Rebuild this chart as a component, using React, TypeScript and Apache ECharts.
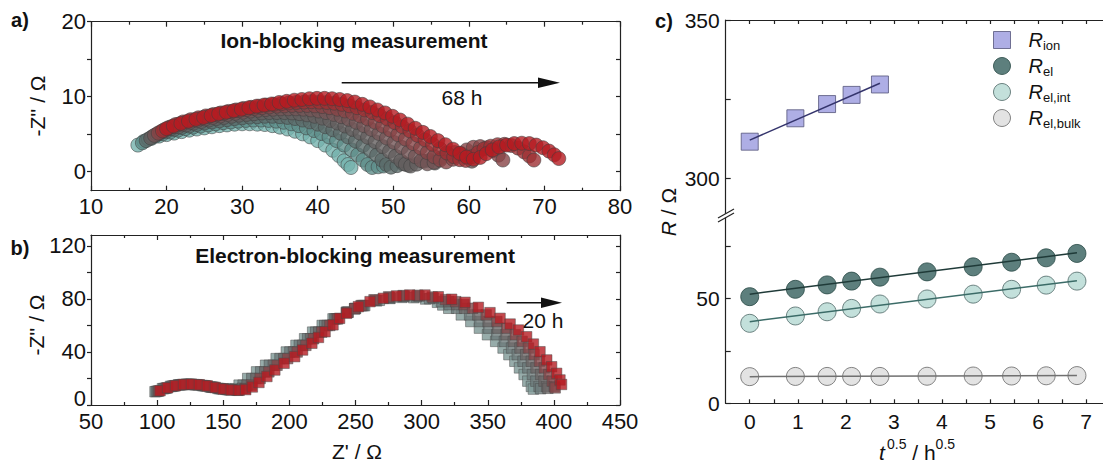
import React, { useEffect, useRef } from "react";
import * as echarts from "echarts";

const FONT = 'Arial, "Liberation Sans", Helvetica, sans-serif';

// ---------------- Panel a: ion-blocking Nyquist spectra (Z', -Z''), 0 h -> 68 h ----------------
const ion0 = [[16.2,3.5],[17.0,4.0],[18.0,4.4],[19.0,4.7],[20.0,4.9],[21.0,5.1],[22.0,5.3],[23.0,5.5],[24.0,5.65],[25.0,5.8],[26.0,5.95],[27.0,6.1],[28.0,6.2],[29.0,6.3],[30.0,6.35],[31.0,6.35],[32.0,6.3],[33.0,6.25],[34.0,6.1],[35.0,5.9],[36.0,5.65],[37.0,5.35],[38.0,5.0],[39.0,4.6],[40.0,4.1],[41.0,3.5],[42.0,2.8],[42.8,2.1],[43.5,1.4],[44.0,0.9],[44.4,0.5]];
const ion1 = [[16.8,3.8],[17.6,4.3],[18.5,4.7],[19.5,5.0],[20.5,5.25],[21.5,5.5],[22.5,5.7],[23.5,5.9],[24.5,6.05],[25.5,6.2],[26.5,6.35],[27.5,6.5],[28.5,6.6],[29.5,6.7],[30.5,6.8],[31.5,6.85],[32.5,6.85],[33.5,6.8],[34.5,6.7],[35.5,6.55],[36.5,6.35],[37.5,6.1],[38.5,5.8],[39.5,5.45],[40.5,5.05],[41.5,4.6],[42.5,4.1],[43.5,3.5],[44.5,2.85],[45.3,2.2],[46.0,1.5],[46.6,0.9],[47.2,0.5],[48.0,0.6],[48.7,0.7]];
const ion2 = [[17.3,4.1],[18.1,4.6],[19.0,5.0],[20.0,5.35],[21.0,5.6],[22.0,5.85],[23.0,6.05],[24.0,6.25],[25.0,6.45],[26.0,6.6],[27.0,6.75],[28.0,6.9],[29.0,7.05],[30.0,7.15],[31.0,7.25],[32.0,7.3],[33.0,7.35],[34.0,7.35],[35.0,7.3],[36.0,7.2],[37.0,7.05],[38.0,6.85],[39.0,6.6],[40.0,6.3],[41.0,5.95],[42.0,5.55],[43.0,5.1],[44.0,4.6],[45.0,4.05],[46.0,3.45],[47.0,2.8],[47.8,2.15],[48.5,1.5],[49.1,0.9],[49.7,0.55],[50.5,0.75],[51.3,1.0],[52.0,0.8]];
const ion3 = [[17.9,4.45],[18.7,4.95],[19.6,5.35],[20.6,5.7],[21.6,5.95],[22.6,6.2],[23.6,6.45],[24.6,6.65],[25.6,6.85],[26.6,7.05],[27.6,7.2],[28.6,7.35],[29.6,7.5],[30.6,7.6],[31.6,7.7],[32.6,7.8],[33.6,7.85],[34.6,7.85],[35.6,7.85],[36.6,7.8],[37.6,7.7],[38.6,7.55],[39.6,7.35],[40.6,7.1],[41.6,6.8],[42.6,6.45],[43.6,6.05],[44.6,5.6],[45.6,5.1],[46.6,4.55],[47.6,3.95],[48.6,3.3],[49.5,2.65],[50.3,2.0],[51.0,1.4],[51.6,0.95],[52.3,0.7],[53.1,0.95],[54.0,1.35],[54.8,1.45],[55.5,1.1]];
const ion4 = [[18.4,4.8],[19.2,5.25],[20.1,5.65],[21.1,6.0],[22.1,6.3],[23.1,6.55],[24.1,6.8],[25.1,7.0],[26.1,7.2],[27.1,7.4],[28.1,7.6],[29.1,7.75],[30.1,7.9],[31.1,8.05],[32.1,8.15],[33.1,8.25],[34.1,8.3],[35.1,8.35],[36.1,8.35],[37.1,8.35],[38.1,8.3],[39.1,8.2],[40.1,8.05],[41.1,7.85],[42.1,7.6],[43.1,7.3],[44.1,6.95],[45.1,6.55],[46.1,6.1],[47.1,5.6],[48.1,5.05],[49.1,4.45],[50.1,3.85],[51.1,3.2],[52.0,2.55],[52.9,1.95],[53.7,1.4],[54.5,1.0],[55.4,1.2],[56.3,1.8],[57.2,2.3],[58.1,2.5],[59.0,2.35],[59.8,1.9],[60.4,1.35]];
const ion5 = [[18.9,5.1],[19.7,5.55],[20.6,5.95],[21.6,6.3],[22.6,6.6],[23.6,6.85],[24.6,7.1],[25.6,7.35],[26.6,7.55],[27.6,7.75],[28.6,7.95],[29.6,8.1],[30.6,8.25],[31.6,8.4],[32.6,8.5],[33.6,8.6],[34.6,8.7],[35.6,8.75],[36.6,8.8],[37.6,8.8],[38.6,8.8],[39.6,8.75],[40.6,8.65],[41.6,8.5],[42.6,8.3],[43.6,8.05],[44.6,7.75],[45.6,7.4],[46.6,7.0],[47.6,6.55],[48.6,6.05],[49.6,5.5],[50.6,4.9],[51.6,4.3],[52.6,3.7],[53.6,3.1],[54.5,2.5],[55.4,1.95],[56.2,1.5],[57.0,1.25],[57.9,1.6],[58.8,2.3],[59.7,2.85],[60.6,3.2],[61.5,3.3],[62.4,3.15],[63.2,2.75],[63.9,2.15],[64.5,1.5]];
const ion6 = [[19.45,5.4],[20.3,5.85],[21.2,6.25],[22.2,6.6],[23.2,6.9],[24.2,7.15],[25.2,7.4],[26.2,7.6],[27.2,7.8],[28.2,8.0],[29.2,8.2],[30.2,8.4],[31.2,8.55],[32.2,8.7],[33.2,8.85],[34.2,8.95],[35.2,9.05],[36.2,9.15],[37.2,9.2],[38.2,9.25],[39.2,9.3],[40.2,9.25],[41.2,9.2],[42.2,9.1],[43.2,8.95],[44.2,8.75],[45.2,8.5],[46.2,8.2],[47.2,7.85],[48.2,7.45],[49.2,7.0],[50.2,6.5],[51.2,5.95],[52.2,5.4],[53.2,4.8],[54.2,4.2],[55.2,3.6],[56.2,3.0],[57.1,2.45],[58.0,1.95],[58.8,1.55],[59.6,1.45],[60.4,1.95],[61.2,2.5],[62.0,3.0],[62.9,3.35],[63.8,3.55],[64.7,3.6],[65.6,3.45],[66.5,3.1],[67.3,2.6],[68.0,2.05],[68.6,1.5]];
const ion7 = [[20.0,5.7],[20.9,6.05],[21.9,6.4],[22.9,6.7],[23.9,6.95],[24.9,7.2],[25.9,7.45],[26.9,7.7],[27.9,7.9],[28.9,8.1],[29.9,8.3],[30.9,8.5],[31.9,8.7],[32.9,8.85],[33.9,9.0],[34.9,9.2],[35.9,9.35],[36.9,9.5],[37.9,9.6],[38.9,9.7],[39.9,9.75],[40.9,9.75],[41.9,9.7],[42.9,9.6],[43.9,9.45],[44.9,9.25],[45.9,8.95],[46.9,8.6],[47.9,8.2],[48.9,7.8],[49.9,7.35],[50.9,6.85],[51.9,6.3],[52.9,5.75],[53.9,5.2],[54.9,4.65],[55.9,4.1],[56.9,3.55],[57.9,2.95],[58.8,2.4],[59.7,1.9],[60.6,1.6],[61.5,1.85],[62.3,2.35],[63.1,2.85],[64.0,3.25],[65.0,3.5],[66.0,3.7],[67.0,3.75],[68.0,3.7],[68.9,3.5],[69.8,3.15],[70.6,2.7],[71.3,2.2],[71.9,1.7]];
const ionSpectra = [ion0, ion1, ion2, ion3, ion4, ion5, ion6, ion7];
const ionColors = ["#74b2ad", "#5f8e8b", "#5b6b6a", "#645f5f", "#735556", "#874446", "#9e2f33", "#b51c22"];

// ---------------- Panel b: electron-blocking Nyquist spectra, 0 h -> 20 h ----------------
const el0 = [[98.4,10],[104,12.3],[110,14],[116,15.2],[122,15.6],[128,15.4],[134,14.7],[140,13.6],[146,12.5],[152,11.8],[157,12.3],[162,15],[168.5,20],[175.2,25],[182,30],[190,35],[197.7,40],[205,45],[211.5,50],[217.6,55],[224.8,60],[233,65],[243,70],[250,72.8],[257,75],[268,79],[276,80.4],[285,81.2],[294,81],[303,80],[312,77.5],[316,75.5],[320.5,73],[330,68],[337.2,63],[343.7,58],[349.8,53],[356,48],[361.6,43],[366,38],[370.5,33],[374,28],[377.5,23],[380.3,18],[383,14],[384.5,12]];
const el1 = [[99.3,10.2],[105,12.4],[111,14.1],[117,15.2],[123,15.6],[129,15.3],[135,14.6],[141,13.5],[147,12.4],[153,11.7],[159,11.9],[165,15],[171.6,20],[178.3,25],[184.9,30],[192.9,35],[200.4,40],[207.5,45],[213.8,50],[219.9,55],[226.7,60],[234.2,65],[243.5,70],[249.5,72.7],[256,75],[266,78.6],[276,80.7],[286,81.7],[296,81.6],[306,80.2],[315,78],[321,75.8],[326.5,73],[336.3,68],[343.8,63],[350.6,58],[356.8,53],[362.6,48],[368,43],[372.3,38],[376.7,33],[380.3,28],[383.8,23],[386.4,18],[388.8,14],[390,12.3]];
const el2 = [[100.2,10.4],[106,12.6],[112,14.3],[118,15.3],[124,15.6],[130,15.3],[136,14.5],[142,13.4],[148,12.3],[154,11.6],[160,11.4],[164.5,12.6],[168,15],[174.7,20],[181.4,25],[187.8,30],[195.8,35],[203.1,40],[210,45],[216,50],[222.2,55],[228.6,60],[235.4,65],[244,70],[249.5,72.7],[255,75],[265,79],[276,81.2],[287,82.2],[298,82.2],[309,80.7],[320.5,78],[326.5,75.8],[332.5,73],[342.5,68],[350.3,63],[357.5,58],[363.8,53],[369.3,48],[374.4,43],[378.7,38],[382.9,33],[386.5,28],[390,23],[392.5,18],[394.5,14],[395.5,12.6]];
const el3 = [[101.2,10.6],[107,12.8],[113,14.4],[119,15.4],[125,15.6],[131,15.2],[137,14.4],[143,13.3],[149,12.2],[155,11.4],[161,11.1],[166.5,12.3],[171.3,15],[177.9,20],[184.5,25],[190.7,30],[198.7,35],[205.9,40],[212.5,45],[218.3,50],[224.5,55],[230.6,60],[236.6,65],[244.5,70],[249.3,72.7],[254.2,75],[264,79.4],[275,81.6],[286,82.6],[297,82.8],[308,81.5],[318,79.5],[325.8,78],[332,75.8],[338.5,73],[348.8,68],[356.9,63],[364.4,58],[370.8,53],[376,48],[380.8,43],[385,38],[389.1,33],[392.7,28],[396.2,23],[398.7,18],[400.3,14],[401,12.9]];
const el4 = [[102.2,10.8],[108,13],[114,14.6],[120,15.5],[126,15.7],[132,15.3],[138,14.4],[144,13.2],[150,12.1],[156,11.4],[162,11.1],[167,11.6],[172,13.6],[177,17],[183,21.5],[189,26.4],[196,31.5],[204,36.5],[210,41.5],[217,46.6],[222,51],[227,55.3],[233,60.5],[238,65.4],[243.3,69.2],[252.2,74.2],[261,78],[271,80.5],[281,82.3],[291,83],[302.5,83],[312.6,81.7],[322.7,79.8],[332.8,77.5],[342.9,73.7],[351.7,69.7],[359.3,65.4],[366.9,61.1],[373.2,56.6],[379.4,51.5],[384.5,46],[389.5,40.2],[394.6,34],[398.3,28.9],[402.1,23.9],[404.6,18.9],[405.8,15.5]];
const elSpectra = [el0, el1, el2, el3, el4];
const elColors = ["#7d9795", "#6d7b7a", "#6b6767", "#84474a", "#b51c22"];

// ---------------- Panel c: resistances vs t^0.5 ----------------
const sqrtT = [0, 0.95, 1.61, 2.12, 2.71, 3.69, 4.65, 5.45, 6.17, 6.81];
const rIon = [311.5, 318.9, 323.4, 326.3, 329.6];
const rEl = [50.8, 54.3, 56.4, 58.2, 60.1, 62.6, 65.0, 67.2, 69.3, 71.4];
const rElInt = [38.1, 41.6, 43.6, 45.2, 47.3, 49.7, 52.0, 54.3, 56.3, 58.2];
const rElBulk = [12.7, 12.8, 12.8, 12.8, 12.8, 12.9, 13.0, 13.0, 13.1, 13.2];
const fitIon = [[0, 312.0], [2.71, 330.0]];
const fitEl = [[0, 52.0], [6.81, 71.7]];
const fitElInt = [[0, 38.9], [6.81, 58.4]];
const fitElBulk = [[0, 12.7], [6.81, 13.2]];

// ---------------- tick values ----------------
const aXLabels = [10, 20, 30, 40, 50, 60, 70, 80];
const aYLabels = [0, 10, 20];
const aYTicks = [0, 5, 10, 15, 20];
const bXLabels = [50, 100, 150, 200, 250, 300, 350, 400, 450];
const bYLabels = [0, 40, 80, 120];
const bYTicks = [0, 20, 40, 60, 80, 100, 120];
const cXLabels = [0, 1, 2, 3, 4, 5, 6, 7];
const cXTicks = [0, 0.5, 1, 1.5, 2, 2.5, 3, 3.5, 4, 4.5, 5, 5.5, 6, 6.5, 7];
const cYUpperLabels = [300, 350];
const cYUpperTicks = [300, 325, 350];
const cYLowerLabels = [0, 50];
const cYLowerTicks = [0, 25, 50, 75];

const lineStyle = { color: "#222", width: 1.2 };

function valAxis(o: any) {
  return {
    type: "value",
    gridIndex: o.grid,
    position: o.position,
    min: o.min,
    max: o.max,
    ...(o.interval ? { interval: o.interval } : {}),
    axisLine: { show: true, onZero: false, lineStyle },
    axisTick: {
      show: true,
      inside: o.inside,
      length: o.tickLen ?? 5,
      lineStyle,
      ...(o.ticks ? { customValues: o.ticks } : {}),
    },
    minorTick: o.minor
      ? { show: true, splitNumber: 2, length: 3, lineStyle }
      : { show: false },
    axisLabel: o.labels
      ? {
          show: true,
          customValues: o.labels,
          margin: o.margin,
          fontSize: o.fontSize,
          color: "#111",
          fontFamily: FONT,
          ...(o.labelFormatter ? { formatter: o.labelFormatter, rich: o.labelRich } : {}),
        }
      : { show: false },
    splitLine: { show: false },
    silent: true,
  };
}

function txt(text: string, x: number, y: number, extra: any = {}, rotation = 0) {
  return {
    type: "text",
    x,
    y,
    rotation,
    z: 100,
    silent: true,
    style: {
      text,
      fill: "#111",
      fontFamily: FONT,
      fontSize: 21,
      align: "center",
      verticalAlign: "middle",
      ...extra,
    },
  };
}

function buildOption() {
  const series: any[] = [];
  ionSpectra.forEach((d, i) => {
    series.push({
      type: "scatter",
      xAxisIndex: 0,
      yAxisIndex: 0,
      data: d,
      symbol: "circle",
      symbolSize: 14,
      itemStyle: { color: ionColors[i], borderColor: "#3f3f3f", borderWidth: 0.7 },
      silent: true,
    });
  });
  elSpectra.forEach((d, i) => {
    series.push({
      type: "scatter",
      xAxisIndex: 2,
      yAxisIndex: 2,
      data: d,
      symbol: "rect",
      symbolSize: 10.5,
      itemStyle: { color: elColors[i], borderColor: "#4a4a4a", borderWidth: 0.6 },
      silent: true,
    });
  });
  const fitLine = (data: number[][], xi: number, yi: number, color: string) => ({
    type: "line",
    xAxisIndex: xi,
    yAxisIndex: yi,
    data,
    symbol: "none",
    lineStyle: { color, width: 1.5 },
    z: 3,
    silent: true,
  });
  series.push({
    name: "Rion",
    type: "scatter",
    xAxisIndex: 4,
    yAxisIndex: 4,
    data: rIon.map((v, i) => [sqrtT[i], v]),
    symbol: "rect",
    symbolSize: 17,
    itemStyle: { color: "#9a9ade", borderColor: "#55557a", borderWidth: 1 },
    silent: true,
  });
  series.push({
    name: "Rel",
    type: "scatter",
    xAxisIndex: 5,
    yAxisIndex: 5,
    data: rEl.map((v, i) => [sqrtT[i], v]),
    symbol: "circle",
    symbolSize: 18,
    itemStyle: { color: "#355f5c", borderColor: "#284845", borderWidth: 1 },
    silent: true,
  });
  series.push({
    name: "Rel,int",
    type: "scatter",
    xAxisIndex: 5,
    yAxisIndex: 5,
    data: rElInt.map((v, i) => [sqrtT[i], v]),
    symbol: "circle",
    symbolSize: 18,
    itemStyle: { color: "#b4d8d2", borderColor: "#4f6866", borderWidth: 1 },
    silent: true,
  });
  series.push({
    name: "Rel,bulk",
    type: "scatter",
    xAxisIndex: 5,
    yAxisIndex: 5,
    data: rElBulk.map((v, i) => [sqrtT[i], v]),
    symbol: "circle",
    symbolSize: 18,
    itemStyle: { color: "#dcdcdc", borderColor: "#676767", borderWidth: 1 },
    silent: true,
  });
  series.push(fitLine(fitIon, 4, 4, "#34346c"));
  series.push(fitLine(fitEl, 5, 5, "#1f3a38"));
  series.push(fitLine(fitElInt, 5, 5, "#3b6b67"));
  series.push(fitLine(fitElBulk, 5, 5, "#707070"));

  const richR = {
    r: { fontStyle: "italic", fontSize: 20, lineHeight: 24, verticalAlign: "middle", fontFamily: FONT, color: "#111", padding: [0, 0, 0, 13] },
    s: { fontSize: 13, lineHeight: 11, verticalAlign: "bottom", fontFamily: FONT, color: "#111" },
  };
  const legendLabels: Record<string, string> = {
    Rion: "{r|R}{s|ion}",
    Rel: "{r|R}{s|el}",
    "Rel,int": "{r|R}{s|el,int}",
    "Rel,bulk": "{r|R}{s|el,bulk}",
  };

  const graphic: any[] = [
    txt("a)", 20, 20, { fontSize: 20, fontWeight: "bold" }),
    txt("b)", 20, 248, { fontSize: 20, fontWeight: "bold" }),
    txt("c)", 664, 21, { fontSize: 20, fontWeight: "bold" }),
    txt("Ion-blocking measurement", 354, 40, { fontWeight: "bold" }),
    txt("Electron-blocking measurement", 355, 255, { fontWeight: "bold" }),
    txt("68 h", 462, 97.5),
    txt("20 h", 543, 320.5),
    txt("-Z'' / Ω", 37, 106, {}, Math.PI / 2),
    txt("-Z'' / Ω", 36, 325, {}, Math.PI / 2),
    txt("Z' / Ω", 357, 451),
    txt("{i|R} / Ω", 668, 212, {
      rich: { i: { fontStyle: "italic", fontSize: 21, fontFamily: FONT, fill: "#111" } },
    }, Math.PI / 2),
    txt("{t|t}{sp| }{sup|0.5}{n| / h}{sup|0.5}", 917, 450, {
      rich: {
        t: { fontStyle: "italic", fontSize: 21, lineHeight: 26, verticalAlign: "bottom", fontFamily: FONT },
        sp: { fontSize: 8, lineHeight: 26, verticalAlign: "bottom", fontFamily: FONT },
        n: { fontSize: 21, lineHeight: 26, verticalAlign: "bottom", fontFamily: FONT },
        sup: { fontSize: 14, lineHeight: 14, verticalAlign: "top", fontFamily: FONT },
      },
    }),
    // arrows
    { type: "line", z: 100, silent: true, shape: { x1: 341.7, y1: 82.7, x2: 545, y2: 82.7 }, style: { stroke: "#111", lineWidth: 1.5 } },
    { type: "polygon", z: 100, silent: true, shape: { points: [[560, 82.7], [538, 77.5], [538, 87.9]] }, style: { fill: "#111" } },
    { type: "line", z: 100, silent: true, shape: { x1: 506.7, y1: 302.7, x2: 548, y2: 302.7 }, style: { stroke: "#111", lineWidth: 1.5 } },
    { type: "polygon", z: 100, silent: true, shape: { points: [[562, 302.7], [541, 297.5], [541, 307.9]] }, style: { fill: "#111" } },
    // axis break marks
    { type: "polygon", z: 100, silent: true, shape: { points: [[718, 218], [734, 209], [734, 213], [718, 222]] }, style: { fill: "#fff" } },
    { type: "line", z: 101, silent: true, shape: { x1: 718, y1: 218, x2: 734, y2: 209 }, style: { stroke: "#222", lineWidth: 1.2 } },
    { type: "line", z: 101, silent: true, shape: { x1: 718, y1: 222, x2: 734, y2: 213 }, style: { stroke: "#222", lineWidth: 1.2 } },
  ];

  // lift the "0" of panel b's y axis so it clears the "50" below it
  const bYFormatter = (v: number) => (v === 0 ? "{lo|0}" : String(v));
  const bYRich = { lo: { fontSize: 22, fontFamily: FONT, color: "#111", padding: [0, 0, 14, 0] } };

  return {
    animation: false,
    backgroundColor: "#ffffff",
    grid: [
      { left: 91, top: 21.7, width: 529, height: 169, outerBoundsMode: "none", containLabel: false },
      { left: 91, top: 235, width: 529, height: 170, outerBoundsMode: "none", containLabel: false },
      { left: 725.7, top: 20, width: 384.4, height: 195, outerBoundsMode: "none", containLabel: false },
      { left: 725.7, top: 215, width: 384.4, height: 188.3, outerBoundsMode: "none", containLabel: false },
    ],
    xAxis: [
      valAxis({ grid: 0, position: "bottom", min: 10, max: 80, interval: 10, inside: true, minor: true, labels: aXLabels, margin: 5, fontSize: 22 }),
      valAxis({ grid: 0, position: "top", min: 10, max: 80, interval: 10, inside: true, minor: true }),
      valAxis({ grid: 1, position: "bottom", min: 50, max: 450, interval: 50, inside: true, minor: true, labels: bXLabels, margin: 5, fontSize: 22 }),
      valAxis({ grid: 1, position: "top", min: 50, max: 450, interval: 50, inside: true, minor: true }),
      valAxis({ grid: 2, position: "top", min: -0.5, max: 7.5, inside: true, ticks: cXTicks, tickLen: 4 }),
      valAxis({ grid: 3, position: "bottom", min: -0.5, max: 7.5, inside: true, ticks: cXTicks, tickLen: 4, labels: cXLabels, margin: 8, fontSize: 21 }),
    ],
    yAxis: [
      valAxis({ grid: 0, position: "left", min: -2.6, max: 20, inside: false, ticks: aYTicks, tickLen: 4, labels: aYLabels, margin: 5, fontSize: 22 }),
      valAxis({ grid: 0, position: "right", min: -2.6, max: 20, inside: true, ticks: aYTicks, tickLen: 4 }),
      valAxis({ grid: 1, position: "left", min: 0, max: 128.3, inside: false, ticks: bYTicks, tickLen: 4, labels: bYLabels, margin: 5, fontSize: 22, labelFormatter: bYFormatter, labelRich: bYRich }),
      valAxis({ grid: 1, position: "right", min: 0, max: 128.3, inside: true, ticks: bYTicks, tickLen: 4 }),
      valAxis({ grid: 2, position: "left", min: 288.3, max: 350, inside: true, ticks: cYUpperTicks, tickLen: 5, labels: cYUpperLabels, margin: 6, fontSize: 21 }),
      valAxis({ grid: 3, position: "left", min: 0, max: 89.7, inside: true, ticks: cYLowerTicks, tickLen: 5, labels: cYLowerLabels, margin: 6, fontSize: 21 }),
    ],
    legend: {
      data: ["Rion", "Rel", "Rel,int", "Rel,bulk"],
      orient: "vertical",
      left: 993,
      top: 30,
      itemWidth: 17,
      itemHeight: 17,
      itemGap: 4,
      padding: 0,
      selectedMode: false,
      formatter: (name: string) => legendLabels[name],
      textStyle: { rich: richR, fontFamily: FONT, color: "#111" },
      itemStyle: { borderWidth: 1 },
    },
    series,
    graphic,
  };
}

export default function App() {
  const ref = useRef<HTMLDivElement>(null);
  useEffect(() => {
    if (!ref.current) return;
    const chart = echarts.init(ref.current, undefined, { renderer: "svg" });
    chart.setOption(buildOption() as any);
    return () => chart.dispose();
  }, []);
  return (
    <div
      ref={ref}
      style={{ position: "fixed", left: 0, top: 0, width: 1103, height: 468, background: "#fff" }}
    />
  );
}
